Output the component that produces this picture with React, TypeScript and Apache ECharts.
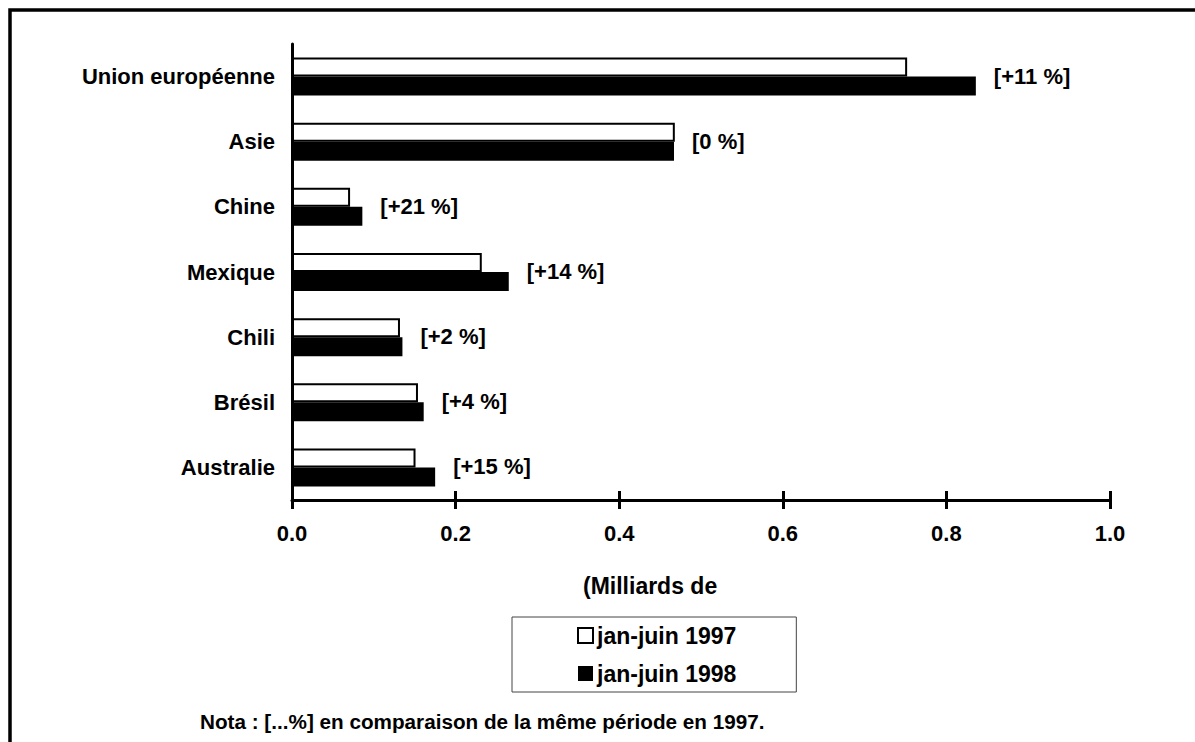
import React, { useEffect, useRef } from "react";
import * as echarts from "echarts";

const categories = ["Union européenne", "Asie", "Chine", "Mexique", "Chili", "Brésil", "Australie"];
const values1997 = [0.752, 0.468, 0.071, 0.232, 0.132, 0.154, 0.151];
const values1998 = [0.836, 0.467, 0.086, 0.265, 0.135, 0.161, 0.175];
const changeLabels = ["[+11 %]", "[0 %]", "[+21 %]", "[+14 %]", "[+2 %]", "[+4 %]", "[+15 %]"];
const seriesNames = ["jan-juin 1997", "jan-juin 1998"];
const xTicks = { min: 0, max: 1, interval: 0.2 };
const axisTitle = "(Milliards de";
const note = "Nota : [...%] en comparaison de la même période en 1997.";

const FONT = '"Liberation Sans", Arial, Helvetica, sans-serif';

export default function App() {
  const ref = useRef<HTMLDivElement>(null);
  useEffect(() => {
    if (!ref.current) return;
    const chart = echarts.init(ref.current, undefined, { renderer: "svg" });
    const option: any = {
      animation: false,
      backgroundColor: "#ffffff",
      textStyle: { fontFamily: FONT, fontWeight: "bold", color: "#000" },
      grid: { left: 292, right: 85, top: 44, bottom: 242, containLabel: false },
      xAxis: [
        {
          type: "value",
          min: xTicks.min,
          max: xTicks.max,
          interval: xTicks.interval,
          axisLine: { show: true, lineStyle: { color: "#000", width: 3 } },
          axisTick: { show: true, length: 9, inside: false, lineStyle: { color: "#000", width: 3 } },
          axisLabel: {
            margin: 22,
            fontSize: 22,
            fontWeight: "bold",
            fontFamily: FONT,
            color: "#000",
            formatter: (v: number) => v.toFixed(1),
          },
          splitLine: { show: false },
        },
        {
          type: "value",
          position: "bottom",
          min: xTicks.min,
          max: xTicks.max,
          interval: xTicks.interval,
          axisLine: { show: false },
          axisTick: { show: true, length: 9, inside: true, lineStyle: { color: "#000", width: 3 } },
          axisLabel: { show: false },
          splitLine: { show: false },
        },
      ],
      yAxis: {
        type: "category",
        data: categories,
        inverse: true,
        axisLine: { show: true, lineStyle: { color: "#000", width: 3 } },
        axisTick: { show: false },
        axisLabel: {
          margin: 17,
          fontSize: 22,
          fontWeight: "bold",
          fontFamily: FONT,
          color: "#000",
        },
      },
      legend: {
        orient: "vertical",
        left: 512,
        top: 617,
        data: seriesNames,
        icon: "rect",
        itemWidth: 15,
        itemHeight: 15,
        itemGap: 15,
        padding: [7, 60, 7, 65],
        borderColor: "#444",
        borderWidth: 1,
        textStyle: { fontSize: 23, fontWeight: "bold", fontFamily: FONT, color: "#000", lineHeight: 22, padding: [0, 0, 0, -1] },
      },
      series: [
        {
          name: seriesNames[0],
          type: "bar",
          data: values1997,
          barWidth: 19,
          barGap: "0%",
          itemStyle: { color: "#ffffff", borderColor: "#000", borderWidth: 2 },
        },
        {
          name: seriesNames[1],
          type: "bar",
          data: values1998,
          barWidth: 19,
          barGap: "0%",
          itemStyle: { color: "#000000", borderColor: "#000", borderWidth: 0 },
          label: {
            show: true,
            position: "right",
            distance: 18,
            offset: [0, -10],
            fontSize: 22,
            fontWeight: "bold",
            fontFamily: FONT,
            color: "#000",
            formatter: (p: any) => changeLabels[p.dataIndex],
          },
        },
      ],
      graphic: [
        {
          type: "rect",
          shape: { x: 10, y: 10, width: 1400, height: 1000 },
          style: { fill: "none", stroke: "#000", lineWidth: 3.5 },
          silent: true,
        },
        {
          type: "text",
          left: 583,
          top: 574,
          style: { text: axisTitle, fontSize: 23, fontWeight: "bold", fontFamily: FONT, fill: "#000" },
        },
        {
          type: "text",
          left: 200,
          top: 711,
          style: { text: note, fontSize: 20.7, fontWeight: "bold", fontFamily: FONT, fill: "#000" },
        },
      ],
    };
    chart.setOption(option);
    return () => chart.dispose();
  }, []);
  return (
    <div
      ref={ref}
      style={{ position: "fixed", left: 0, top: 0, width: 1195, height: 742, background: "#fff" }}
    />
  );
}
